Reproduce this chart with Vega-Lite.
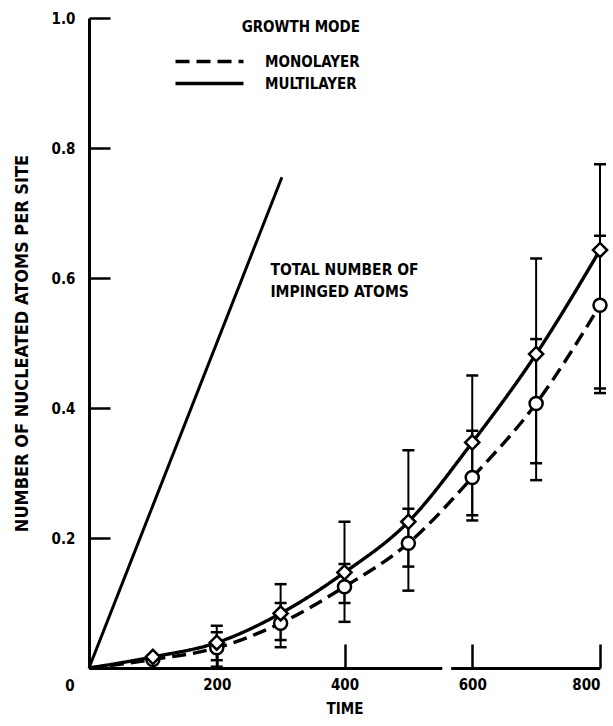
{
  "$schema": "https://vega.github.io/schema/vega-lite/v6.json",
  "width": 511,
  "height": 650,
  "autosize": {"type": "none"},
  "padding": {"left": 89, "top": 18, "right": 13, "bottom": 58},
  "background": "white",
  "config": {
    "view": {"stroke": null},
    "font": "DejaVu Sans Condensed, sans-serif",
    "axis": {
      "grid": false,
      "domainColor": "black",
      "domainWidth": 3,
      "tickColor": "black",
      "tickWidth": 2.5,
      "labelColor": "black",
      "labelFont": "DejaVu Sans Condensed, sans-serif",
      "labelFontWeight": "bold",
      "labelFontSize": 15,
      "titleColor": "black",
      "titleFont": "DejaVu Sans Condensed, sans-serif",
      "titleFontWeight": "bold",
      "titleFontSize": 15
    }
  },
  "datasets": {
    "pts": [
      {"t": 0, "mode": "MULTILAYER", "v": 0},
      {"t": 100, "mode": "MULTILAYER", "v": 0.017},
      {"t": 200, "mode": "MULTILAYER", "v": 0.039},
      {"t": 300, "mode": "MULTILAYER", "v": 0.084},
      {"t": 400, "mode": "MULTILAYER", "v": 0.147},
      {"t": 500, "mode": "MULTILAYER", "v": 0.225},
      {"t": 600, "mode": "MULTILAYER", "v": 0.347},
      {"t": 700, "mode": "MULTILAYER", "v": 0.483},
      {"t": 800, "mode": "MULTILAYER", "v": 0.643},
      {"t": 0, "mode": "MONOLAYER", "v": 0},
      {"t": 100, "mode": "MONOLAYER", "v": 0.013},
      {"t": 200, "mode": "MONOLAYER", "v": 0.031},
      {"t": 300, "mode": "MONOLAYER", "v": 0.069},
      {"t": 400, "mode": "MONOLAYER", "v": 0.125},
      {"t": 500, "mode": "MONOLAYER", "v": 0.192},
      {"t": 600, "mode": "MONOLAYER", "v": 0.293},
      {"t": 700, "mode": "MONOLAYER", "v": 0.407},
      {"t": 800, "mode": "MONOLAYER", "v": 0.558}
    ],
    "err": [
      {"t": 200, "mode": "MULTILAYER", "lo": 0.012, "hi": 0.065},
      {"t": 300, "mode": "MULTILAYER", "lo": 0.043, "hi": 0.129},
      {"t": 400, "mode": "MULTILAYER", "lo": 0.1, "hi": 0.225},
      {"t": 500, "mode": "MULTILAYER", "lo": 0.156, "hi": 0.335},
      {"t": 600, "mode": "MULTILAYER", "lo": 0.235, "hi": 0.45},
      {"t": 700, "mode": "MULTILAYER", "lo": 0.315, "hi": 0.63},
      {"t": 800, "mode": "MULTILAYER", "lo": 0.43, "hi": 0.775},
      {"t": 200, "mode": "MONOLAYER", "lo": 0.002, "hi": 0.055},
      {"t": 300, "mode": "MONOLAYER", "lo": 0.032, "hi": 0.1},
      {"t": 400, "mode": "MONOLAYER", "lo": 0.071, "hi": 0.16},
      {"t": 500, "mode": "MONOLAYER", "lo": 0.119, "hi": 0.245},
      {"t": 600, "mode": "MONOLAYER", "lo": 0.227, "hi": 0.365},
      {"t": 700, "mode": "MONOLAYER", "lo": 0.289, "hi": 0.506},
      {"t": 800, "mode": "MONOLAYER", "lo": 0.423, "hi": 0.665}
    ],
    "total": [
      {"t": 0, "v": 0},
      {"t": 302, "v": 0.755}
    ],
    "gap": [
      {"t1": 553, "t2": 567, "v": 0}
    ],
    "notes": [
      {"t": 284, "v": 0.612, "label": "TOTAL NUMBER OF"},
      {"t": 284, "v": 0.579, "label": "IMPINGED ATOMS"}
    ],
    "origin": [
      {"t": 0, "v": 0, "label": "0"}
    ]
  },
  "layer": [
    {
      "data": {"name": "total"},
      "mark": {"type": "line", "color": "black", "strokeWidth": 3},
      "encoding": {
        "x": {
          "field": "t", "type": "quantitative",
          "scale": {"domain": [0, 800], "nice": false, "zero": true},
          "axis": {"values": [200, 400, 600, 800], "tickSize": -24, "labelPadding": 33, "title": "TIME", "titlePadding": 9}
        },
        "y": {
          "field": "v", "type": "quantitative",
          "scale": {"domain": [0, 1], "nice": false},
          "axis": {"values": [0.2, 0.4, 0.6, 0.8, 1.0], "format": ".1f", "tickSize": -21, "labelPadding": 35, "title": "NUMBER OF NUCLEATED ATOMS PER SITE", "titleFontSize": 18, "titlePadding": 20}
        }
      }
    },
    {
      "data": {"name": "gap"},
      "mark": {"type": "rule", "color": "white", "strokeWidth": 6},
      "encoding": {
        "x": {"field": "t1", "type": "quantitative"},
        "x2": {"field": "t2"},
        "y": {"field": "v", "type": "quantitative"}
      }
    },
    {
      "data": {"name": "err"},
      "mark": {"type": "rule", "color": "black", "strokeWidth": 2},
      "encoding": {
        "x": {"field": "t", "type": "quantitative"},
        "y": {"field": "lo", "type": "quantitative"},
        "y2": {"field": "hi"}
      }
    },
    {
      "data": {"name": "err"},
      "mark": {"type": "tick", "orient": "horizontal", "color": "black", "size": 12, "thickness": 2.5, "opacity": 1},
      "encoding": {
        "x": {"field": "t", "type": "quantitative"},
        "y": {"field": "lo", "type": "quantitative"}
      }
    },
    {
      "data": {"name": "err"},
      "mark": {"type": "tick", "orient": "horizontal", "color": "black", "size": 12, "thickness": 2.5, "opacity": 1},
      "encoding": {
        "x": {"field": "t", "type": "quantitative"},
        "y": {"field": "hi", "type": "quantitative"}
      }
    },
    {
      "data": {"name": "pts"},
      "mark": {"type": "line", "color": "black", "strokeWidth": 3.4, "interpolate": "monotone"},
      "encoding": {
        "x": {"field": "t", "type": "quantitative"},
        "y": {"field": "v", "type": "quantitative"},
        "strokeDash": {
          "field": "mode", "type": "nominal",
          "scale": {"domain": ["MONOLAYER", "MULTILAYER"], "range": [[14, 7], [1, 0]]},
          "legend": {
            "title": "GROWTH MODE",
            "orient": "none",
            "legendX": 110,
            "legendY": 2,
            "symbolType": "M-4,0H4",
            "symbolSize": 289,
            "symbolStrokeWidth": 3.5,
            "symbolStrokeColor": "black",
            "labelOffset": 45,
            "labelFontSize": 15,
            "labelFontWeight": "bold",
            "labelColor": "black",
            "labelFont": "DejaVu Sans Condensed, sans-serif",
            "titleFontSize": 15,
            "titleFontWeight": "bold",
            "titleColor": "black",
            "titleFont": "DejaVu Sans Condensed, sans-serif",
            "titleAnchor": "end",
            "titlePadding": 16,
            "rowPadding": 3
          }
        }
      }
    },
    {
      "data": {"name": "pts"},
      "transform": [{"filter": "datum.t > 0 && datum.mode == 'MONOLAYER'"}],
      "mark": {"type": "point", "shape": "circle", "size": 170, "filled": true, "fill": "white", "stroke": "black", "strokeWidth": 2.5, "opacity": 1},
      "encoding": {
        "x": {"field": "t", "type": "quantitative"},
        "y": {"field": "v", "type": "quantitative"}
      }
    },
    {
      "data": {"name": "pts"},
      "transform": [{"filter": "datum.t > 0 && datum.mode == 'MULTILAYER'"}],
      "mark": {"type": "point", "shape": "diamond", "size": 200, "filled": true, "fill": "white", "stroke": "black", "strokeWidth": 2.5, "opacity": 1},
      "encoding": {
        "x": {"field": "t", "type": "quantitative"},
        "y": {"field": "v", "type": "quantitative"}
      }
    },
    {
      "data": {"name": "notes"},
      "mark": {"type": "text", "align": "left", "baseline": "middle", "fontSize": 15.5, "fontWeight": "bold", "color": "black", "font": "DejaVu Sans Condensed, sans-serif"},
      "encoding": {
        "x": {"field": "t", "type": "quantitative"},
        "y": {"field": "v", "type": "quantitative"},
        "text": {"field": "label"}
      }
    },
    {
      "data": {"name": "origin"},
      "mark": {"type": "text", "align": "center", "baseline": "middle", "dx": -19, "dy": 18, "fontSize": 15, "fontWeight": "bold", "color": "black", "font": "DejaVu Sans Condensed, sans-serif"},
      "encoding": {
        "x": {"field": "t", "type": "quantitative"},
        "y": {"field": "v", "type": "quantitative"},
        "text": {"field": "label"}
      }
    }
  ]
}
